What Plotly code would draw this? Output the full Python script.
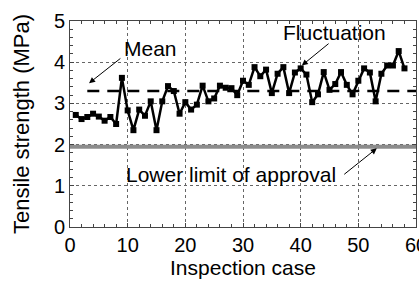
import plotly.graph_objects as go

# ---- data ----
inspection_case = list(range(1, 59))
tensile_strength = [
    2.72, 2.62, 2.67, 2.75, 2.68, 2.58, 2.67, 2.50, 3.62, 2.83,
    2.35, 2.85, 2.70, 3.05, 2.35, 3.05, 3.42, 3.30, 2.75, 3.03,
    2.85, 2.97, 3.43, 3.05, 3.12, 3.43, 3.38, 3.37, 3.20, 3.55,
    3.45, 3.88, 3.66, 3.82, 3.25, 3.72, 3.88, 3.25, 3.75, 3.85,
    3.70, 3.03, 3.22, 3.76, 3.33, 3.47, 3.76, 3.45, 3.22, 3.55,
    3.85, 3.75, 3.05, 3.72, 3.92, 3.92, 4.27, 3.85,
]
mean_value = 3.3
mean_x = [3, 60]
lower_limit = 1.95
limit_x = [0, 60]
x_ticks = [0, 10, 20, 30, 40, 50, 60]
y_ticks = [0, 1, 2, 3, 4, 5]

FONT = "Arial, Liberation Sans, Helvetica, sans-serif"

fig = go.Figure()

fig.add_trace(go.Scatter(
    x=limit_x, y=[lower_limit, lower_limit], mode="lines",
    line=dict(color="#8c8c8c", width=4), hoverinfo="skip", showlegend=False))

fig.add_trace(go.Scatter(
    x=mean_x, y=[mean_value, mean_value], mode="lines",
    line=dict(color="black", width=2.5, dash="12px,8px"), showlegend=False))

fig.add_trace(go.Scatter(
    x=inspection_case, y=tensile_strength, mode="lines+markers",
    line=dict(color="black", width=2.5),
    marker=dict(symbol="square", size=6, color="black"),
    showlegend=False))

ann_font = dict(family=FONT, size=21, color="black")
arrow_kw = dict(showarrow=True, arrowhead=2, arrowsize=1.2, arrowwidth=1,
                arrowcolor="black", axref="x", ayref="y", text="")

fig.add_annotation(x=13.9, y=4.33, text="Mean", showarrow=False, font=ann_font)
fig.add_annotation(x=3.3, y=3.49, ax=9.0, ay=4.12, **arrow_kw)

fig.add_annotation(x=45.8, y=4.72, text="Fluctuation", showarrow=False, font=ann_font)
fig.add_annotation(x=40.2, y=3.92, ax=45.1, ay=4.48, **arrow_kw)

fig.add_annotation(x=27.9, y=1.28, text="Lower limit of approval", showarrow=False, font=ann_font)
fig.add_annotation(x=53.2, y=1.91, ax=47.3, ay=1.25, **arrow_kw)

axis_common = dict(
    showline=True, linecolor="#444", linewidth=1, mirror="allticks",
    ticks="inside", ticklen=4, tickcolor="#444",
    showgrid=True, gridcolor="#666", griddash="dot", gridwidth=1,
    zeroline=False, automargin=False, ticklabeloverflow="allow",
    tickfont=dict(family=FONT, size=20, color="black"),
)

fig.update_xaxes(
    range=[0, 60], tickvals=x_ticks,
    minor=dict(dtick=2, ticks="inside", ticklen=3, tickcolor="#444", showgrid=False),
    title=dict(text="Inspection case", font=dict(family=FONT, size=21, color="black"), standoff=0),
    **axis_common)
fig.update_yaxes(
    range=[0, 5], tickvals=y_ticks,
    minor=dict(dtick=0.2, ticks="inside", ticklen=3, tickcolor="#444", showgrid=False),
    title=dict(text="Tensile strength (MPa)", font=dict(family=FONT, size=22, color="black"), standoff=18),
    **axis_common)

fig.update_layout(
    width=419, height=282,
    margin=dict(l=70, r=3, t=21, b=55),
    plot_bgcolor="white", paper_bgcolor="white",
    font=dict(family=FONT),
)

fig.write_html(
    "out.html",
    config={"displayModeBar": False},
    post_script="document.body.style.margin='0';document.body.style.padding='0';",
)
